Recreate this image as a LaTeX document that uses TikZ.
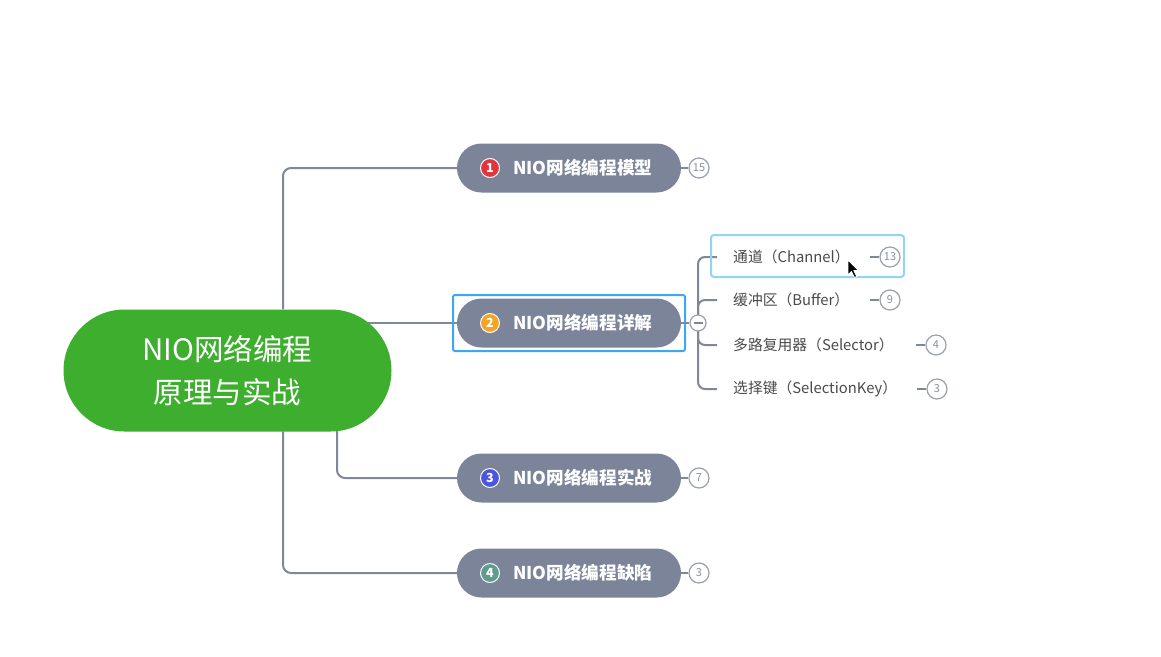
\documentclass[tikz,border=0pt]{standalone}
\usepackage{fontspec}
\setmainfont{Noto Sans CJK SC}
\usetikzlibrary{backgrounds}
\definecolor{rootgreen}{HTML}{3DAE2E}
\definecolor{pillgray}{HTML}{7C8499}
\definecolor{linegray}{HTML}{7F8798}
\definecolor{bubblegray}{HTML}{9AA0AE}
\definecolor{numgray}{HTML}{8A90A0}
\definecolor{selblue}{HTML}{3DA8F0}
\definecolor{hoverblue}{HTML}{92D4F4}
\definecolor{cred}{HTML}{E0353B}
\definecolor{corange}{HTML}{F4A526}
\definecolor{cblue}{HTML}{4A55E0}
\definecolor{cteal}{HTML}{5F9C90}
\definecolor{childtext}{HTML}{4A4A4A}
\tikzset{
  rootbox/.style={fill=rootgreen, rounded corners=61pt, minimum width=328pt, minimum height=122pt, inner sep=0pt, text=white, align=center, font=\fontsize{29.5}{43}\selectfont},
  pill/.style={fill=pillgray, rounded corners=24.5pt, minimum width=224pt, minimum height=49pt, inner sep=0pt},
  pilltext/.style={anchor=west, text=white, font=\fontsize{17.6}{20}\selectfont\bfseries, inner sep=0pt},
  numdot/.style={circle, draw=white, line width=1pt, minimum size=19pt, inner sep=0pt, text=white, font=\fontsize{12.5}{12.5}\selectfont\bfseries},
  bubble/.style={circle, draw=bubblegray, line width=1.2pt, fill=white, minimum size=20pt, inner sep=0pt, text=numgray, font=\fontsize{11}{11}\selectfont},
  childnode/.style={anchor=west, inner xsep=16pt, inner ysep=2pt, text=childtext, font=\fontsize{14.8}{16}\selectfont},
  conn/.style={draw=linegray, line width=2pt, rounded corners=8pt},
  stub/.style={draw=linegray, line width=1.5pt},
}
\begin{document}
\begin{tikzpicture}[x=1pt,y=-1pt]
\useasboundingbox (0,0) rectangle (1161,656);

% root
\node[rootbox] (root) at (227.5,370.5) {NIO网络编程\\原理与实战};

% branch pills
\node[pill] (b1) at (569,168) {};
\node[pill] (b2) at (569,323) {};
\node[pill] (b3) at (569,478) {};
\node[pill] (b4) at (569,573) {};

\node[numdot, fill=cred] (n1) at (490,168) {1};
\node[numdot, fill=corange] (n2) at (490,323) {2};
\node[numdot, fill=cblue] (n3) at (490,478) {3};
\node[numdot, fill=cteal] (n4) at (490,573) {4};

\node[pilltext] (t1) at (513,168) {NIO网络编程模型};
\node[pilltext] (t2) at (513,323) {NIO网络编程详解};
\node[pilltext] (t3) at (513,478) {NIO网络编程实战};
\node[pilltext] (t4) at (513,573) {NIO网络编程缺陷};

% selection frame around branch 2
\node[draw=selblue, line width=2pt, rounded corners=2pt, minimum width=232pt, minimum height=56pt, inner sep=0pt] (sel2) at (569,323) {};

% count bubbles for branches
\node[bubble] (k1) at (699,168) {15};
\node[bubble] (k3) at (699,478) {7};
\node[bubble] (k4) at (699,573) {3};

% collapse button
\node[circle, draw=bubblegray, line width=1.2pt, fill=white, minimum size=16pt, inner sep=0pt] (minus) at (698,323) {};
\draw[linegray, line width=1.2pt] ([xshift=-4.5pt]minus.center) -- ([xshift=4.5pt]minus.center);

% children
\node[childnode] (c1) at (717,257) {通道（Channel）};
\node[childnode] (c2) at (717,300) {缓冲区（Buffer）};
\node[childnode] (c3) at (717,345) {多路复用器（Selector）};
\node[childnode] (c4) at (717,389) {选择键（SelectionKey）};

% hover frame on child 1
\node[draw=hoverblue, line width=2pt, rounded corners=3pt, minimum width=193pt, minimum height=42pt, inner sep=0pt] (hov1) at (807.5,256) {};

% child bubbles
\node[bubble] (d1) at (890,257) {13};
\node[bubble] (d2) at (890,300) {9};
\node[bubble] (d3) at (936,345) {4};
\node[bubble] (d4) at (937,389) {3};

\coordinate (e1) at ([xshift=-9pt]d1.west);
\coordinate (e2) at ([xshift=-9pt]d2.west);
\coordinate (e3) at ([xshift=-9pt]d3.west);
\coordinate (e4) at ([xshift=-9pt]d4.west);
\draw[stub] (e1) -- (d1.west);
\draw[stub] (e2) -- (d2.west);
\draw[stub] (e3) -- (d3.west);
\draw[stub] (e4) -- (d4.west);

\draw[stub] (b1.east) -- (k1.west);
\draw[stub] (b3.east) -- (k3.west);
\draw[stub] (b4.east) -- (k4.west);
\draw[stub] (b2.east) -- (minus.west);

% mouse cursor
\draw[white, fill=black, line width=0.8pt, line join=round]
  (848,260) -- (848,275) -- (851.5,271.5) -- (854.5,277.5) -- (856.8,276.5) -- (853.8,270.6) -- (858.5,270.6) -- cycle;

\begin{scope}[on background layer]
  \fill[white] (0,0) rectangle (1161,656);
  \draw[conn] ([xshift=55.5pt]root.north) |- (b1.west);
  \draw[conn] ([xshift=55.5pt]root.south) |- (b4.west);
  \draw[conn] (root.center |- b2.west) -- (b2.west);
  \draw[conn] ([xshift=109.5pt,yshift=6pt]root.south) |- (b3.west);
  \draw[conn, rounded corners=7pt] (minus.center) |- (c1.west);
  \draw[conn, rounded corners=7pt] (minus.center) |- (c4.west);
  \draw[conn, rounded corners=7pt] (minus.center) |- (c2.west);
  \draw[conn, rounded corners=7pt] (minus.center) |- (c3.west);
\end{scope}
\end{tikzpicture}
\end{document}
